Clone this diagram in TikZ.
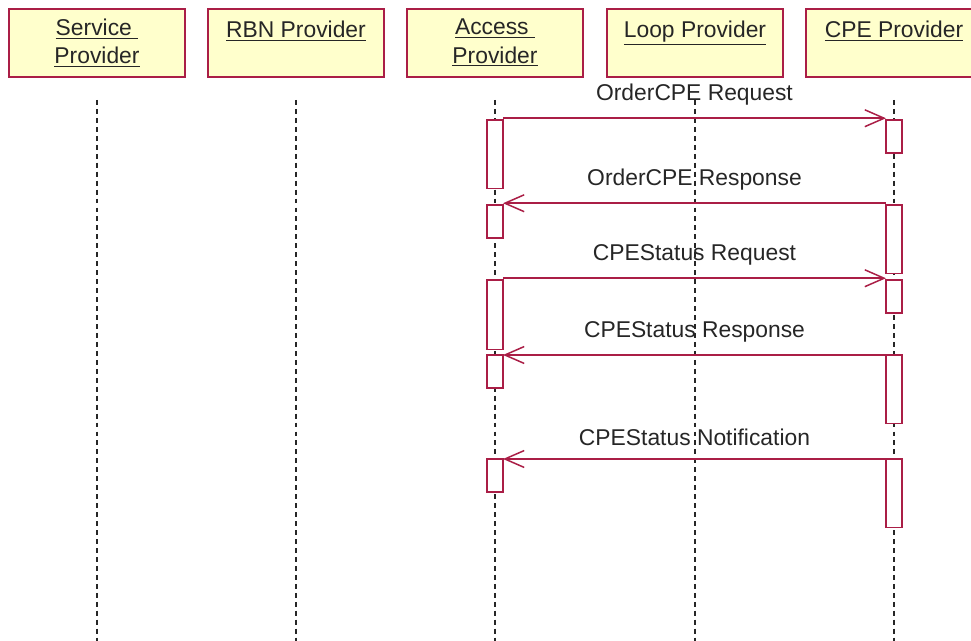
\documentclass[tikz,border=0pt]{standalone}
\usepackage{fontspec}
\setmainfont{Liberation Sans}
\definecolor{seqred}   {RGB}{170,30,70}
\definecolor{seqyellow}{RGB}{255,255,204}
\usetikzlibrary{arrows.meta,positioning}
\tikzset{
  actor/.style={rectangle,draw=seqred,fill=seqyellow,line width=1.1pt,
                minimum width=100.4pt,minimum height=38.6pt,inner sep=0pt,
                font=\fontsize{13}{16}\selectfont,text=black!85,align=center},
  act/.style={rectangle,draw=seqred,fill=white,line width=0.85pt,
              minimum width=9.1pt,minimum height=#1,inner sep=0pt,
              outer sep=0pt,anchor=north},
  act/.default=18.7pt,
  life/.style={black!85,line width=0.85pt,dash pattern=on 2.8pt off 2.3pt},
  msg/.style={-{Straight Barb[length=11pt,width=9.6pt]},seqred,line width=0.85pt},
  lbl/.style={font=\fontsize{13}{16}\selectfont,text=black!85,inner sep=0pt,
              above=7pt},
}
\begin{document}
\begin{tikzpicture}[x=0.02cm,y=-0.02cm]
    \useasboundingbox (0,0) rectangle (971,641);
    % participants
    \node[actor] (sp)  at (97,43)  {\underline{Service\ }\\\underline{Provider}};
    \node[actor] (rbn) at (296,43) {\underline{RBN Provider}\\\mbox{}};
    \node[actor] (ap)  at (495,43) {\underline{Access\ }\\\underline{Provider}};
    \node[actor] (lp)  at (695,43) {\underline{Loop Provider}\\\mbox{}};
    \node[actor] (cp)  at (894,43) {\underline{CPE Provider}\\\mbox{}};
    \foreach \n in {sp,rbn,ap,lp,cp}{
      \draw[life] (\n.south |- 0,100) -- (\n.south |- 0,641);
    }
    % activations
    \node[act=39.1pt] (ap1) at (495,120) {};
    \node[act]        (ap2) at (495,205) {};
    \node[act=39.7pt] (ap3) at (495,280) {};
    \node[act]        (ap4) at (495,355) {};
    \node[act]        (ap5) at (495,459) {};
    \node[act]        (cp1) at (894,120) {};
    \node[act=39.1pt] (cp2) at (894,205) {};
    \node[act]        (cp3) at (894,280) {};
    \node[act=39.1pt] (cp4) at (894,355) {};
    \node[act=39.1pt] (cp5) at (894,459) {};
    % messages
    \draw[msg] ([yshift=1pt]ap1.north east) -- node[lbl]{OrderCPE Request}      ([yshift=1pt]cp1.north west);
    \draw[msg] ([yshift=1pt]cp2.north west) -- node[lbl]{OrderCPE Response}     ([yshift=1pt]ap2.north east);
    \draw[msg] ([yshift=1pt]ap3.north east) -- node[lbl]{CPEStatus Request}     ([yshift=1pt]cp3.north west);
    \draw[msg] (cp4.north west) -- node[lbl]{CPEStatus Response}                (ap4.north east);
    \draw[msg] (cp5.north west) -- node[lbl]{CPEStatus Notification}            (ap5.north east);
  \end{tikzpicture}
\end{document}
